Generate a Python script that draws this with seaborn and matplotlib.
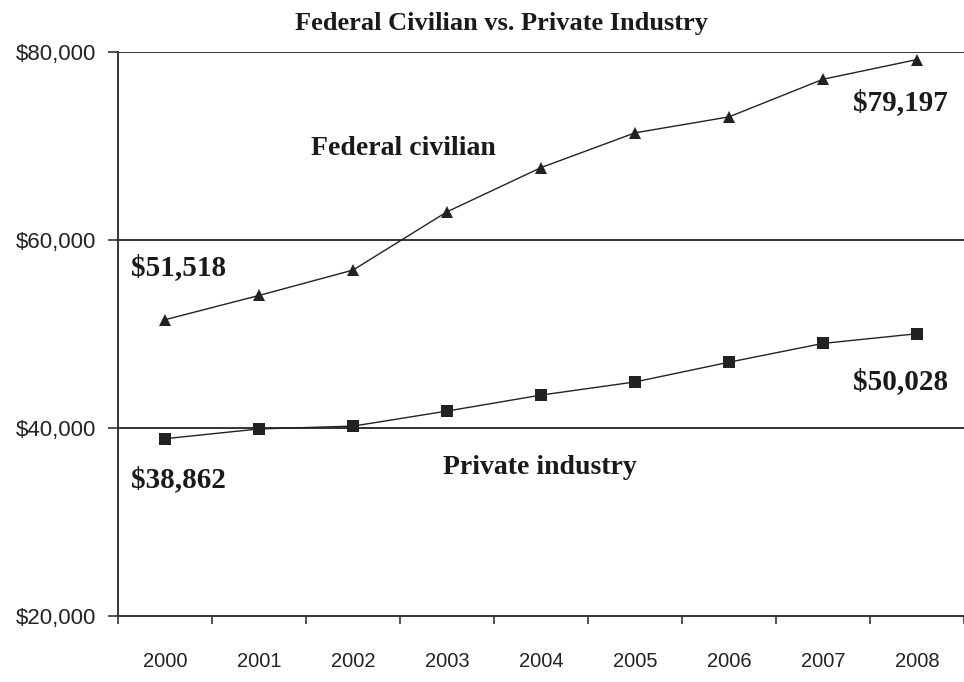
import matplotlib
matplotlib.use("Agg")
import matplotlib.pyplot as plt
import seaborn as sns
import pandas as pd
import numpy as np
from matplotlib.ticker import FixedLocator, FuncFormatter

years = ["2000", "2001", "2002", "2003", "2004", "2005", "2006", "2007", "2008"]
federal = [51518, 54100, 56800, 63000, 67700, 71400, 73100, 77100, 79197]
private = [38862, 39900, 40200, 41800, 43500, 44900, 47000, 49000, 50028]
y_ticks = [20000, 40000, 60000, 80000]

sns.set_theme(style="white")
plt.rcParams['font.family'] = ['Liberation Sans', 'DejaVu Sans']

df = pd.DataFrame({
    "pos": list(range(len(years))) * 2,
    "value": federal + private,
    "series": ["Federal civilian"] * len(years) + ["Private industry"] * len(years),
})

fig = plt.figure(figsize=(9.64, 6.82), dpi=100)
ax = fig.add_axes([118/964, 66/682, 846/964, 564/682])

for y in [40000, 60000, 80000]:
    ax.axhline(y, color="#333333", lw=1.4, zorder=1)

sns.lineplot(data=df, x="pos", y="value", hue="series", style="series",
             markers={"Federal civilian": "^", "Private industry": "s"},
             dashes=False, palette={"Federal civilian": "#222222", "Private industry": "#222222"},
             markersize=8, linewidth=1.0, markeredgewidth=0, legend=False, ax=ax, zorder=3)

ax.set_xlim(-0.5, 8.5)
ax.set_ylim(20000, 80000)
ax.set_xticks(range(len(years)))
ax.set_xticklabels(years)
ax.xaxis.set_minor_locator(FixedLocator(np.arange(-0.5, 9.0, 1.0)))
ax.tick_params(axis="x", which="major", bottom=False, length=0, pad=26, labelsize=14.5, colors="#222222")
ax.tick_params(axis="x", which="minor", bottom=True, length=6, width=1.2, color="#333333", direction="out")
ax.set_yticks(y_ticks)
ax.yaxis.set_major_formatter(FuncFormatter(lambda v, p: f"${v:,.0f}"))
ax.tick_params(axis="y", left=True, length=7, width=1.2, color="#333333", direction="out",
               labelsize=16, pad=9, labelcolor="#222222")
ax.set_xlabel("")
ax.set_ylabel("")

for s in ["top", "right"]:
    ax.spines[s].set_visible(False)
for s in ["left", "bottom"]:
    ax.spines[s].set_color("#333333")
    ax.spines[s].set_linewidth(1.4)

serif = dict(family=["Liberation Serif", "DejaVu Serif"], fontweight="bold", color="#1a1a1a")
ax.text(2.54, 69787, "Federal civilian", fontsize=20, ha="center", va="center", **serif)
ax.text(3.99, 35745, "Private industry", fontsize=20, ha="center", va="center", **serif)
ax.text(-0.36, 57021, "$51,518", fontsize=21, ha="left", va="center", **serif)
ax.text(-0.36, 34468, "$38,862", fontsize=21, ha="left", va="center", **serif)
ax.text(8.33, 74574, "$79,197", fontsize=21, ha="right", va="center", **serif)
ax.text(8.33, 44894, "$50,028", fontsize=21, ha="right", va="center", **serif)

fig.text(501/964, 1 - 30/682, "Federal Civilian vs. Private Industry", ha="center", va="baseline",
         fontsize=19, **serif)

fig.savefig("out.png", dpi=100)
